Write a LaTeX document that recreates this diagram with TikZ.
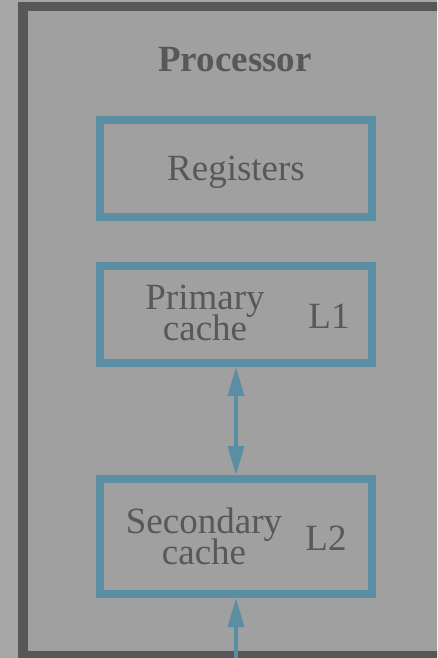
\documentclass[tikz,border=0pt]{standalone}
\usepackage{fontspec}
\setmainfont{Liberation Serif}
\usetikzlibrary{arrows.meta}
\definecolor{pagebg}{HTML}{A6A6A6}
\definecolor{innerbg}{HTML}{A0A0A0}
\definecolor{framecol}{HTML}{575757}
\definecolor{boxcol}{HTML}{5A8EA3}
\definecolor{txtcol}{HTML}{585858}
\tikzset{
  unit/.style={draw=boxcol, line width=8pt, outer sep=4pt, inner sep=0pt,
    minimum width=272pt},
  lbl/.style={anchor=base, text=txtcol, inner sep=0pt, align=center,
    font=\fontsize{37}{33}\selectfont},
  link/.style={draw=boxcol, line width=4pt,
    {Triangle[length=29pt,width=16pt]}-{Triangle[length=29pt,width=16pt]}},
  uplink/.style={draw=boxcol, line width=4pt, -{Triangle[length=29pt,width=16pt]}}
}
\begin{document}
\begin{tikzpicture}[x=1pt, y=-1pt]
  \path[use as bounding box, clip] (0,0) rectangle (437,658);
  \fill[pagebg] (0,0) rectangle (437,658);
  % processor enclosure
  \draw[framecol, fill=innerbg, line width=9.5pt] (23,6.5) rectangle (460,656);
  \node[lbl, font=\fontsize{37}{33}\selectfont\bfseries] (proc) at (235,71.5) {Processor};
  % memory levels
  \node[unit, minimum height=97pt] (reg) at (236,168.5) {};
  \node[unit, minimum height=97pt] (prim) at (236,314.5) {};
  \node[unit, minimum height=115pt] (sec) at (236,536.5) {};
  \node[lbl] (regt) at (236,180.5) {Registers};
  % two-line labels: base anchor sits on the last line
  \node[lbl] (primt) at (205,340) {Primary\\[-4pt]cache};
  \node[lbl] (l1) at (329,328) {L1};
  \node[lbl] (sect) at (204,564) {Secondary\\[-4pt]cache};
  \node[lbl] (l2) at (326,550) {L2};
  % connectors
  \coordinate (below) at (236,680);
  \draw[link] (prim.south) -- (sec.north);
  \draw[uplink] (below) -- (sec.south);
\end{tikzpicture}
\end{document}
